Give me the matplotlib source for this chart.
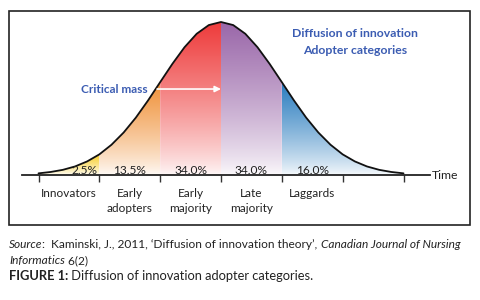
import numpy as np
import matplotlib
matplotlib.use("Agg")
import matplotlib.pyplot as plt
from matplotlib.colors import to_rgb
from matplotlib.patches import Rectangle

# position along the time axis, in standard deviations from the mean
sd = [-3.0, -2.8, -2.6, -2.4, -2.2, -2.0, -1.8, -1.6, -1.4, -1.2, -1.0,
      -0.8, -0.6, -0.4, -0.2, 0.0, 0.2, 0.4, 0.6, 0.8, 1.0,
      1.2, 1.4, 1.6, 1.8, 2.0, 2.2, 2.4, 2.6, 2.8, 3.0]
# relative height of the adoption curve (peak = 1)
height = [0.011, 0.020, 0.034, 0.056, 0.089, 0.135, 0.198, 0.278, 0.375, 0.487, 0.607,
          0.726, 0.835, 0.923, 0.980, 1.000, 0.980, 0.923, 0.835, 0.726, 0.607,
          0.487, 0.375, 0.278, 0.198, 0.135, 0.089, 0.056, 0.034, 0.020, 0.011]
bounds = [-3, -2, -1, 0, 1, 3]
categories = ["Innovators", "Early\nadopters", "Early\nmajority", "Late\nmajority", "Laggards"]
shares = [2.5, 13.5, 34.0, 34.0, 16.0]
seg_colors = ["#f7cf2e", "#f0923a", "#ee3b3b", "#9a67a9", "#2b7dbf"]

blue = "#3b5cb2"
ink = "#222222"

plt.rcParams["font.family"] = ["Lato", "DejaVu Sans"]

fig = plt.figure(figsize=(4.8, 3.0), dpi=100)
ax = fig.add_axes([0.046, 0.238, 0.8504, 0.7397])

x = np.array(sd)
y = np.array(height)

# gradient fill for every adopter group, clipped to the area under the curve
for i, c in enumerate(seg_colors):
    lo, hi = bounds[i], bounds[i + 1]
    m = (x >= lo) & (x <= hi)
    top = y[m].max()
    poly = ax.fill_between(x[m], 0, y[m], facecolor="none", edgecolor="none")
    t = np.linspace(0, 1, 80)[:, None, None] ** 0.8
    rgb = np.array(to_rgb(c))[None, None, :]
    grad = 1 - (1 - rgb) * (0.04 + 0.96 * t)
    im = ax.imshow(grad, extent=(lo, hi, 0, top), origin="lower", aspect="auto",
                   interpolation="bilinear", zorder=1)
    im.set_clip_path(poly.get_paths()[0], transform=ax.transData)

ax.plot(x, y, color="#111111", lw=1.3, zorder=3, solid_capstyle="round")

for s in ["top", "left", "right"]:
    ax.spines[s].set_visible(False)
ax.spines["bottom"].set_position(("data", 0))
ax.spines["bottom"].set_color(ink)
ax.spines["bottom"].set_linewidth(1.3)
ax.set_xticks(range(-3, 4))
ax.set_yticks([])
ax.tick_params(axis="x", direction="out", length=5, width=1, color="#333333", labelbottom=False)
ax.set_xlim(-3.27, 3.44)
ax.set_ylim(-0.35, 1.1)
ax.patch.set_visible(False)

for i, (cat, share) in enumerate(zip(categories, shares)):
    cx = bounds[i] + 0.5
    px = cx + 0.25 if i == 0 else cx
    ax.text(px, 0.03, f"{share:.1f}%", ha="center", va="center", fontsize=8.6, color=ink, zorder=4)
    ax.text(cx, -0.083, cat, ha="center", va="top", fontsize=8.5, color=ink, linespacing=1.42)

ax.text(3.46, 0.0, "Time", ha="left", va="center", fontsize=8.8, color=ink)
ax.text(2.2, 0.922, "Diffusion of innovation", ha="center", va="center",
        fontsize=8.8, fontweight="bold", color=blue)
ax.text(2.2, 0.817, "Adopter categories", ha="center", va="center",
        fontsize=8.8, fontweight="bold", color=blue)
ax.text(-1.2, 0.562, "Critical mass", ha="right", va="center",
        fontsize=8.6, fontweight="bold", color=blue)
ax.annotate("", xy=(0, 0.562), xytext=(-1.05, 0.562),
            arrowprops=dict(arrowstyle="-|>", color="white", lw=1.2,
                            mutation_scale=9, shrinkA=0, shrinkB=0), zorder=5)

fig.patches.append(Rectangle((0.01875, 0.25), 0.9604, 0.7133, transform=fig.transFigure,
                             fill=False, edgecolor=ink, lw=1.2))


def chain(parts, x0, y0, size):
    # run of text pieces with mixed styles, each placed right after the last
    last = None
    for s, style, weight in parts:
        if last is None:
            last = fig.text(x0, y0, s, style=style, fontweight=weight, fontsize=size,
                            color=ink, va="bottom", ha="left")
        else:
            last = ax.annotate(s, xy=(1, 0), xycoords=last, va="bottom", ha="left",
                               style=style, fontweight=weight, fontsize=size, color=ink,
                               annotation_clip=False)


chain([("Source", "italic", "normal"),
       (":  Kaminski, J., 2011, \u2018Diffusion of innovation theory\u2019, ", "normal", "normal"),
       ("Canadian Journal of Nursing", "italic", "normal")], 0.0188, 0.168, 8.6)
chain([("Informatics", "italic", "normal"), (" 6(2)", "normal", "normal")], 0.0188, 0.113, 8.6)
chain([("FIGURE 1:", "normal", "bold"),
       (" Diffusion of innovation adopter categories.", "normal", "normal")], 0.0188, 0.060, 9.3)

fig.savefig("out.png", dpi=100)
